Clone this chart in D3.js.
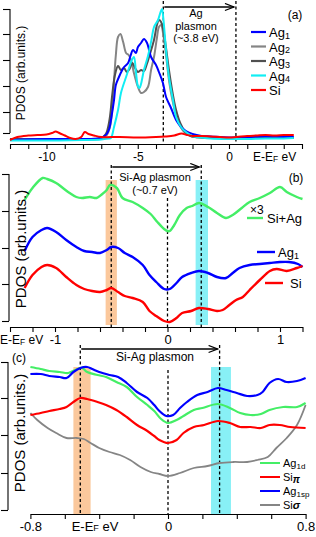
<!DOCTYPE html>
<html>
<head>
<meta charset="utf-8">
<script src="https://cdn.jsdelivr.net/npm/d3@7"></script>
<style>
body{margin:0;background:#fff;}
text{font-family:"Liberation Sans",Arial,sans-serif;fill:#000;}
</style>
</head>
<body>
<script>

// ---- panel (a): energy (eV), PDOS (arb.) ----
var aAg1 = [[-12,4],[-10,5],[-8,5],[-7.2,5.5],[-6.9,7],[-6.7,10],[-6.55,16],[-6.45,26],[-6.3,44],[-6.2,59],[-6.03,67],[-5.85,74],[-5.75,77],[-5.53,81],[-5.4,88],[-5.26,94],[-5.1,91],[-4.99,97],[-4.82,101],[-4.66,105],[-4.49,101],[-4.38,94],[-4.27,87],[-4.0,79],[-3.84,72],[-3.62,61],[-3.45,47],[-3.2,37],[-2.9,24],[-2.63,17],[-2.36,13],[-2,10],[-1.5,8],[-1,7.5],[0,6.5],[1,7],[2,7.5],[3,7],[3.55,7]];
var aAg2 = [[-12,4.5],[-8,4.5],[-7,5.5],[-6.7,9],[-6.5,19],[-6.35,49],[-6.2,89],[-6.08,107],[-5.95,110],[-5.8,102],[-5.64,91],[-5.5,89],[-5.37,84],[-5.21,71],[-4.99,57],[-4.82,51],[-4.66,52],[-4.44,57],[-4.27,74],[-4.11,87],[-3.95,106],[-3.84,117],[-3.72,119],[-3.6,109],[-3.45,89],[-3.29,64],[-3.1,44],[-2.9,29],[-2.65,17],[-2.4,11],[-2.1,8],[-1.5,6.5],[0,6],[3.55,6]];
var aAg3 = [[-12,5],[-8,5],[-7,6],[-6.75,10],[-6.55,24],[-6.4,49],[-6.25,69],[-6.08,78],[-5.92,74],[-5.75,76],[-5.6,72],[-5.45,75],[-5.3,81],[-5.15,76],[-4.99,72],[-4.82,74],[-4.66,73],[-4.5,80],[-4.35,89],[-4.11,104],[-3.95,119],[-3.84,124],[-3.72,122],[-3.6,114],[-3.45,96],[-3.29,74],[-3.1,52],[-2.9,34],[-2.65,20],[-2.4,12],[-2.1,8],[-1.5,6.5],[0,6],[3.55,6.5]];
var aAg4 = [[-12,3.5],[-10,3.5],[-8,4],[-7,4.5],[-6.6,5.5],[-6.47,6],[-6.3,17],[-6.08,34],[-5.92,51],[-5.64,67],[-5.48,76],[-5.37,82],[-5.21,87],[-5.1,72],[-4.99,58],[-4.9,56],[-4.82,60],[-4.66,74],[-4.44,88],[-4.25,104],[-4.11,117],[-3.89,124],[-3.75,132],[-3.67,135],[-3.6,126],[-3.45,94],[-3.29,67],[-3.07,44],[-2.9,27],[-2.63,17],[-2.36,12],[-2,8],[-1.5,6.5],[-1,5.5],[0,5],[1,5],[2,5.5],[3,5.5],[3.55,6]];
var aSi = [[-12,4],[-11.6,7],[-11,8.5],[-10.5,9],[-10,9.5],[-9.7,11],[-9.5,12.5],[-9.3,11],[-9,8.5],[-8.7,6],[-8.4,5],[-8.1,7],[-7.9,12],[-7.7,10],[-7.4,8.5],[-7,7],[-6,7],[-5,6.5],[-4,7],[-3.5,7.5],[-3,8.5],[-2.6,10.5],[-2.3,9],[-2,8],[-1.5,8],[-1,7.5],[-0.5,7],[0,6.5],[0.4,7],[1,8],[1.5,8.5],[2,9],[2.5,8.5],[3,9],[3.55,9]];
var aTicksX = [-12,-11,-10,-9,-8,-7,-6,-5,-4,-3,-2,-1,0,1,2,3,4];
var aLabelsX = [-10,-5,0];
var aTicksY = [135,110,84,58,32,11];
var aDashes = [-3.6,0.38];
var aLegend = ["1","2","3","4",""];

// ---- panel (b) ----
var bSiAg = [[-1.27,130],[-1.2,142],[-1.11,152],[-1.07,151],[-0.99,147],[-0.93,142],[-0.87,137],[-0.81,133],[-0.76,132],[-0.69,133],[-0.63,132],[-0.59,135],[-0.54,140],[-0.51,145],[-0.45,142],[-0.4,132],[-0.31,128],[-0.22,122],[-0.15,116],[-0.09,108],[-0.03,101],[0,99],[0.02,99],[0.06,105],[0.11,115],[0.17,122],[0.22,124],[0.28,127],[0.36,123],[0.44,117],[0.52,112],[0.58,115],[0.66,122],[0.73,128],[0.82,132],[0.91,137],[1.0,143],[1.06,138],[1.15,133],[1.2,131]];
var bAg1 = [[-1.27,79],[-1.2,93],[-1.12,100],[-1.07,102],[-0.99,98],[-0.9,90],[-0.81,83],[-0.74,79],[-0.67,78],[-0.6,77],[-0.54,80],[-0.5,83],[-0.44,82],[-0.38,77],[-0.31,73],[-0.22,65],[-0.16,55],[-0.1,48],[-0.03,41],[0.02,41],[0.08,47],[0.13,53],[0.21,57],[0.28,59],[0.36,57],[0.44,53],[0.52,52],[0.58,57],[0.64,62],[0.73,65],[0.82,66],[0.91,67],[1.0,68],[1.08,68],[1.16,66],[1.2,63]];
var bSi = [[-1.27,42],[-1.2,55],[-1.12,63],[-1.07,65],[-0.99,62],[-0.9,53],[-0.81,45],[-0.74,41],[-0.67,39],[-0.6,38],[-0.54,40],[-0.5,42],[-0.44,38],[-0.38,34],[-0.31,32],[-0.22,28],[-0.16,19],[-0.1,14],[-0.03,9],[0.02,8],[0.08,12],[0.13,17],[0.21,19],[0.28,22],[0.36,21],[0.44,19],[0.49,20],[0.55,25],[0.61,30],[0.67,33],[0.73,40],[0.82,50],[0.91,59],[0.97,61],[1.06,59],[1.15,62],[1.2,64]];
var bTicksX = [-1.4,-1.2,-1,-0.8,-0.6,-0.4,-0.2,0,0.2,0.4,0.6,0.8,1,1.2];
var bLabelsX = [-1,0,1];
var bTicksY = [156,119,82,46,9];
var bDashes = [-0.5,0,0.3];
var bBands = [[-0.55,-0.45],[0.25,0.36]];

// ---- panel (c) ----
var cAg1d = [[-0.8,148],[-0.74,146],[-0.69,144],[-0.63,143],[-0.58,142],[-0.54,145],[-0.5,147],[-0.47,143],[-0.41,140],[-0.36,138],[-0.3,133],[-0.24,128],[-0.18,118],[-0.12,110],[-0.08,104],[-0.04,96],[0,92],[0.05,95],[0.09,99],[0.15,105],[0.2,107],[0.29,111],[0.36,107],[0.42,102],[0.48,100],[0.54,101],[0.59,105],[0.67,108],[0.75,108],[0.8,112]];
var cAg1sp = [[-0.8,141],[-0.74,141],[-0.69,139],[-0.63,138],[-0.59,137],[-0.55,143],[-0.51,147],[-0.47,148],[-0.44,146],[-0.4,143],[-0.34,140],[-0.29,138],[-0.24,132],[-0.18,123],[-0.12,117],[-0.08,110],[-0.05,104],[-0.01,99],[0.03,100],[0.07,107],[0.11,113],[0.17,120],[0.23,123],[0.29,127],[0.34,125],[0.4,122],[0.46,119],[0.52,120],[0.55,123],[0.59,132],[0.64,136],[0.69,133],[0.75,134],[0.8,137]];
var cSiPi = [[-0.8,100],[-0.74,102],[-0.69,104],[-0.63,106],[-0.59,108],[-0.55,113],[-0.51,117],[-0.47,116],[-0.41,113],[-0.36,110],[-0.3,105],[-0.24,98],[-0.18,90],[-0.12,84],[-0.08,79],[-0.05,75],[0,72],[0.05,75],[0.09,82],[0.15,88],[0.21,90],[0.29,94],[0.36,92],[0.42,88],[0.48,88],[0.54,87],[0.59,90],[0.65,90],[0.71,88],[0.8,87]];
var cSiSigma = [[-0.8,102],[-0.76,95],[-0.7,87],[-0.65,82],[-0.59,77],[-0.53,77],[-0.49,76],[-0.45,72],[-0.4,67],[-0.34,63],[-0.28,60],[-0.22,55],[-0.16,48],[-0.1,43],[-0.05,41],[0,39],[0.07,42],[0.15,47],[0.23,49],[0.3,52],[0.38,53],[0.46,53],[0.52,55],[0.58,58],[0.63,67],[0.69,77],[0.75,90],[0.8,110]];
var cTicksX = [-0.8,-0.6,-0.4,-0.2,0,0.2,0.4,0.6,0.8];
var cLabelsX = [-0.8,0,0.8];
var cTicksY = [153,117,80,42,5];
var cDashes = [-0.51,0,0.3];
var cBands = [[-0.55,-0.45],[0.25,0.366]];

var blue = "#0000ff", red = "#ff0000", green = "#44ee66", cyan = "#11eef4",
    gray = "#858585", dgray = "#505050", peach = "#fbc89c", aqua = "#88f0f6";

var svg = d3.select("body").append("svg").attr("width", 316).attr("height", 537);

svg.append("defs").append("marker")
	.attr("id", "arr").attr("markerUnits", "userSpaceOnUse")
	.attr("markerWidth", 12).attr("markerHeight", 10)
	.attr("refX", 10).attr("refY", 4).attr("orient", "auto")
	.append("path").attr("d", "M1,0.5 L10,4 L1,7.5")
	.attr("fill", "none").attr("stroke", "#000").attr("stroke-width", 1.3);

function near(arr, v){
	for (var i = 0; i < arr.length; i++) if (Math.abs(arr[i]-v) < 1e-6) return true;
	return false;
}

function drawXAxis(x, y0, ticks, labels, fs){
	var g = svg.append("g").attr("transform", "translate(0," + y0 + ")")
		.call(d3.axisBottom(x).tickValues(ticks).tickSize(5).tickSizeOuter(0).tickPadding(3)
			.tickFormat(function(d){ return near(labels, d) ? String(+d.toFixed(1)) : ""; }));
	g.selectAll("text").attr("font-size", fs).attr("font-family", null);
	g.selectAll("line,path").attr("stroke-width", 1.1);
	return g;
}

function drawYAxis(y, x0, ticks){
	var g = svg.append("g").attr("transform", "translate(" + x0 + ",0)")
		.call(d3.axisLeft(y).tickValues(ticks).tickSize(7).tickFormat(""));
	g.select(".domain").remove();
	g.selectAll("line").attr("stroke-width", 1.1);
	g.append("line").attr("x1", 0).attr("x2", 0)
		.attr("y1", y(d3.max(ticks))).attr("y2", y(d3.min(ticks)))
		.attr("stroke", "#000").attr("stroke-width", 1.1);
}

function curve(x, y, data, color, w){
	var line = d3.line().x(function(d){ return x(d[0]); }).y(function(d){ return y(d[1]); })
		.curve(d3.curveCatmullRom.alpha(0.5));
	svg.append("path").datum(data).attr("d", line)
		.attr("fill", "none").attr("stroke", color).attr("stroke-width", w)
		.attr("stroke-linejoin", "round");
}

function dashed(x, e, y1, y2){
	svg.append("line").attr("x1", x(e)).attr("x2", x(e)).attr("y1", y1).attr("y2", y2)
		.attr("stroke", "#000").attr("stroke-width", 1.3).attr("stroke-dasharray", "3,2.5");
}

function arrow(x, e1, e2, yy){
	svg.append("line").attr("x1", x(e1) + 1).attr("x2", x(e2) - 2).attr("y1", yy).attr("y2", yy)
		.attr("stroke", "#000").attr("stroke-width", 1.3).attr("marker-end", "url(#arr)");
}

function label(x, y, str, fs, anchor){
	return svg.append("text").attr("x", x).attr("y", y).attr("font-size", fs)
		.attr("text-anchor", anchor || "start").attr("dominant-baseline", "central").text(str);
}

// text with a subscript part
function subLabel(x, y, base, sub, fs, sfs, after){
	var t = svg.append("text").attr("x", x).attr("y", y).attr("font-size", fs).attr("dominant-baseline", "central");
	t.append("tspan").text(base);
	t.append("tspan").attr("font-size", sfs).attr("dy", fs * 0.3).text(sub);
	if (after) t.append("tspan").attr("dy", -fs * 0.3).text(after);
	return t;
}

function eLabel(x, y, fs, anchor){
	var t = svg.append("text").attr("x", x).attr("y", y).attr("font-size", fs)
		.attr("text-anchor", anchor || "start").attr("dominant-baseline", "central");
	t.append("tspan").text("E-E");
	t.append("tspan").attr("font-size", fs * 0.7).attr("dy", 1.5).text("F");
	t.append("tspan").attr("dy", -1.5).text(" eV");
}

function yTitle(x, y, fs){
	svg.append("text").attr("transform", "translate(" + x + "," + y + ") rotate(-90)")
		.attr("font-size", fs).attr("text-anchor", "middle").attr("dominant-baseline", "central")
		.text("PDOS (arb.units.)");
}

// ================= (a)
var xa = d3.scaleLinear().domain([-12, 4]).range([10, 302]);
var ya = d3.scaleLinear().domain([0, 135]).range([144, 9]);

aDashes.forEach(function(e){ dashed(xa, e, 1, 144); });
curve(xa, ya, aAg2, gray, 2);
curve(xa, ya, aAg3, dgray, 2);
curve(xa, ya, aAg1, blue, 2);
curve(xa, ya, aAg4, cyan, 2);
curve(xa, ya, aSi, red, 2);
drawXAxis(xa, 144, aTicksX, aLabelsX, 12);
drawYAxis(ya, 10, aTicksY);
arrow(xa, aDashes[0], aDashes[1], 7);
label(196, 13, "Ag", 11, "middle");
label(196, 25.5, "plasmon", 11, "middle");
label(196, 38, "(~3.8 eV)", 11, "middle");
label(295, 15, "(a)", 12, "middle");
eLabel(253, 157, 12);
yTitle(21, 73, 12);

var aColors = [blue, gray, dgray, cyan, red];
aLegend.forEach(function(s, i){
	var yy = 32 + i * 14.5;
	svg.append("line").attr("x1", 251).attr("x2", 266).attr("y1", yy).attr("y2", yy)
		.attr("stroke", aColors[i]).attr("stroke-width", 2.2);
	if (s) subLabel(269, yy, "Ag", s, 13, 9);
	else label(269, yy, "Si", 13);
});

// ================= (b)
var xb = d3.scaleLinear().domain([-1.4, 1.2]).range([10, 302.5]);
var yb = d3.scaleLinear().domain([0, 160]).range([330, 170]);

bBands.forEach(function(b, i){
	svg.append("rect").attr("x", xb(b[0])).attr("width", xb(b[1]) - xb(b[0]))
		.attr("y", 180).attr("height", 145).attr("fill", i ? aqua : peach);
});
dashed(xb, bDashes[0], 165, 327);
dashed(xb, bDashes[1], 198, 327);
dashed(xb, bDashes[2], 165, 327);
curve(xb, yb, bSiAg, green, 2.4);
curve(xb, yb, bAg1, blue, 2.4);
curve(xb, yb, bSi, red, 2.4);
drawXAxis(xb, 327, bTicksX, bLabelsX, 13);
drawYAxis(yb, 9, bTicksY);
arrow(xb, bDashes[0], bDashes[2], 167);
label(155, 177, "Si-Ag plasmon", 11, "middle");
label(155, 190, "(~0.7 eV)", 11, "middle");
label(296, 178, "(b)", 12, "middle");
eLabel(0, 340, 12);
yTitle(20, 249, 15);

label(250, 210, "\u00d73", 12);
svg.append("line").attr("x1", 247).attr("x2", 263).attr("y1", 218).attr("y2", 218).attr("stroke", green).attr("stroke-width", 2.4);
label(267, 218, "Si+Ag", 13);
svg.append("line").attr("x1", 257).attr("x2", 275).attr("y1", 252).attr("y2", 252).attr("stroke", blue).attr("stroke-width", 2.4);
subLabel(278, 252, "Ag", "1", 13, 9);
svg.append("line").attr("x1", 265).attr("x2", 283).attr("y1", 283).attr("y2", 283).attr("stroke", red).attr("stroke-width", 2.4);
label(290, 283, "Si", 13);

// ================= (c)
var xc = d3.scaleLinear().domain([-0.8, 0.8]).range([30.4, 305.6]);
var yc = d3.scaleLinear().domain([0, 155]).range([515, 360]);

cBands.forEach(function(b, i){
	svg.append("rect").attr("x", xc(b[0])).attr("width", xc(b[1]) - xc(b[0]))
		.attr("y", 367).attr("height", 147).attr("fill", i ? aqua : peach);
});
dashed(xc, cDashes[0], 345, 514);
dashed(xc, cDashes[1], 370, 514);
dashed(xc, cDashes[2], 345, 514);
curve(xc, yc, cSiSigma, gray, 1.8);
curve(xc, yc, cSiPi, red, 2.2);
curve(xc, yc, cAg1d, green, 2.2);
curve(xc, yc, cAg1sp, blue, 2.2);
drawXAxis(xc, 514, cTicksX, cLabelsX, 13);
drawYAxis(yc, 8, cTicksY);
arrow(xc, cDashes[0], cDashes[2], 349);
label(155, 357, "Si-Ag plasmon", 12, "middle");
label(19, 358, "(c)", 12, "middle");
eLabel(95, 526, 13, "middle");
yTitle(19, 433, 15);

var cKeys = [[green, "Ag", "1d"], [red, "Si", "\u03c0"], [blue, "Ag", "1sp"], [gray, "Si", "\u03c3"]];
cKeys.forEach(function(k, i){
	var yy = 463 + i * 14;
	svg.append("line").attr("x1", 260).attr("x2", 280).attr("y1", yy).attr("y2", yy)
		.attr("stroke", k[0]).attr("stroke-width", 2);
	if (k[1] == "Ag") subLabel(283, yy, "Ag", k[2], 11, 8);
	else {
		var t = svg.append("text").attr("x", 283).attr("y", yy).attr("font-size", 11).attr("dominant-baseline", "central");
		t.append("tspan").text("Si");
		t.append("tspan").attr("font-style", "italic").attr("font-weight", "bold")
			.attr("font-size", i == 1 ? 10 : 11).attr("dy", i == 1 ? 1.5 : 0).text(k[2]);
	}
});

</script>
</body>
</html>
